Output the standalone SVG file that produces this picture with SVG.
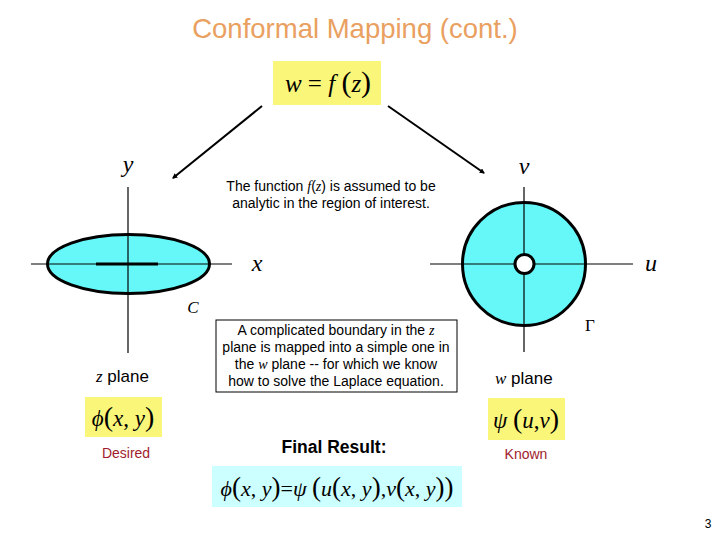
<svg xmlns="http://www.w3.org/2000/svg" width="720" height="540" viewBox="0 0 720 540">
<defs>
<marker id="ah" viewBox="0 0 10 10" refX="8" refY="5" markerWidth="2.6" markerHeight="2.6" orient="auto"><path d="M0,0 L10,5 L0,10 z" fill="#000"/></marker>
</defs>
<style>
.math{font-family:"Liberation Serif","Times New Roman",serif;font-style:italic;fill:#000}
.mr{font-family:"Liberation Serif","Times New Roman",serif;font-style:normal}
.sans{font-family:"Liberation Sans",Arial,sans-serif;fill:#000}
.axis{stroke:#000;stroke-width:1.2;fill:none}
.shape{fill:#66F8F8;stroke:#000;stroke-width:3}
.yel{fill:#FAF67A}
.lbl{font-family:"Liberation Sans",Arial,sans-serif;font-size:14px;fill:#A01C2C}
</style>
<rect width="720" height="540" fill="#fff"/>
<text x="355" y="38" text-anchor="middle" font-family="Liberation Sans,Arial,sans-serif" font-size="27.5" fill="#E9A060">Conformal Mapping (cont.)</text>

<g id="mapping">
<rect class="yel" x="273" y="61" width="108" height="44"/>
<text x="328" y="92" text-anchor="middle" class="math" font-size="25">w <tspan class="mr">=</tspan> f <tspan class="mr" font-size="30">(</tspan>z<tspan class="mr" font-size="30">)</tspan></text>
</g>

<g id="connectors" stroke="#000" stroke-width="2" fill="none">
<line x1="262" y1="106" x2="173" y2="178" marker-end="url(#ah)"/>
<line x1="388" y1="106" x2="484" y2="173" marker-end="url(#ah)"/>
</g>

<g id="note1">
<text class="sans" font-size="14" text-anchor="middle"><tspan x="331" y="191">The function <tspan class="math">f</tspan>(<tspan class="math">z</tspan>) is assumed to be</tspan><tspan x="331" y="208">analytic in the region of interest.</tspan></text>
</g>

<g id="zplane">
<line class="axis" x1="128" y1="187" x2="128" y2="353"/>
<line class="axis" x1="31" y1="264" x2="232" y2="264"/>
<ellipse class="shape" cx="128.5" cy="264" rx="81" ry="29.5"/>
<line x1="96" y1="264" x2="158" y2="264" stroke="#000" stroke-width="3"/>
<line class="axis" x1="128" y1="234" x2="128" y2="294"/>
<line class="axis" x1="47" y1="264" x2="210" y2="264"/>
<text x="128" y="172" text-anchor="middle" class="math" font-size="24">y</text>
<text x="257" y="271" text-anchor="middle" class="math" font-size="24">x</text>
<text x="193" y="313" text-anchor="middle" class="math" font-size="17">C</text>
<text x="96" y="382" class="sans" font-size="17"><tspan class="math">z</tspan> plane</text>
</g>

<g id="wplane">
<line class="axis" x1="524" y1="187" x2="524" y2="352"/>
<line class="axis" x1="430" y1="264" x2="633" y2="264"/>
<circle class="shape" cx="524" cy="264" r="61.5"/>
<line class="axis" x1="524" y1="202" x2="524" y2="326"/>
<line class="axis" x1="462" y1="264" x2="586" y2="264"/>
<circle cx="524.5" cy="264" r="9.5" fill="#fff" stroke="#000" stroke-width="3"/>
<text x="524" y="174" text-anchor="middle" class="math" font-size="24">v</text>
<text x="651" y="271" text-anchor="middle" class="math" font-size="24">u</text>
<text x="590" y="331" text-anchor="middle" class="mr" font-size="17" font-family="Liberation Serif,serif">Γ</text>
<text x="495" y="384" class="sans" font-size="17"><tspan class="math">w</tspan> plane</text>
</g>

<g id="note2">
<rect x="216" y="320" width="241" height="72" fill="#fff" stroke="#000" stroke-width="1"/>
<text class="sans" font-size="14" text-anchor="middle"><tspan x="336" y="335">A complicated boundary in the <tspan class="math">z</tspan></tspan><tspan x="336" y="352">plane is mapped into a simple one in</tspan><tspan x="336" y="369">the <tspan class="math">w</tspan> plane  -- for which we know</tspan><tspan x="336" y="386">how to solve the Laplace equation.</tspan></text>
</g>

<g id="phi">
<rect class="yel" x="85" y="397" width="77" height="40"/>
<text x="123" y="426" text-anchor="middle" class="math" font-size="23">ϕ<tspan class="mr" font-size="28">(</tspan>x<tspan class="mr">, </tspan>y<tspan class="mr" font-size="28">)</tspan></text>
<text x="126" y="458" text-anchor="middle" class="lbl">Desired</text>
</g>

<g id="psi">
<rect class="yel" x="488" y="398" width="77" height="42"/>
<text x="526" y="428" text-anchor="middle" class="math" font-size="23">ψ <tspan class="mr" font-size="28">(</tspan>u<tspan class="mr">,</tspan>v<tspan class="mr" font-size="28">)</tspan></text>
<text x="526" y="459" text-anchor="middle" class="lbl">Known</text>
</g>

<g id="result">
<text x="334" y="453" text-anchor="middle" class="sans" font-size="17.5" font-weight="bold">Final Result:</text>
<rect x="212" y="466" width="250" height="41" fill="#CCFFFF"/>
<text x="337" y="496" text-anchor="middle" class="math" font-size="22">ϕ<tspan class="mr" font-size="27">(</tspan>x<tspan class="mr">, </tspan>y<tspan class="mr" font-size="27">)</tspan><tspan class="mr">=</tspan>ψ <tspan class="mr" font-size="27">(</tspan>u<tspan class="mr" font-size="27">(</tspan>x<tspan class="mr">, </tspan>y<tspan class="mr" font-size="27">)</tspan><tspan class="mr">,</tspan>v<tspan class="mr" font-size="27">(</tspan>x<tspan class="mr">, </tspan>y<tspan class="mr" font-size="27">))</tspan></text>
</g>

<text x="708" y="528" text-anchor="middle" class="sans" font-size="12">3</text>
</svg>
